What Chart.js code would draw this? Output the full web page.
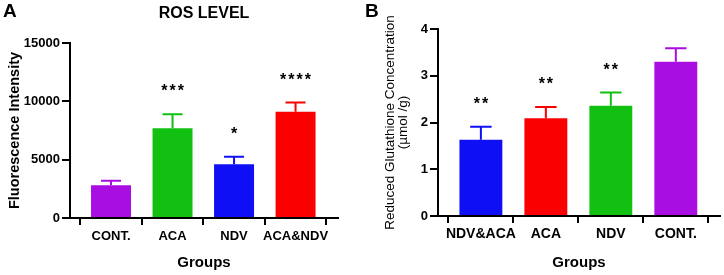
<!DOCTYPE html>
<html>
<head>
<meta charset="utf-8">
<script src="https://cdn.jsdelivr.net/npm/chart.js@4"></script>
<style>
  body { margin: 0; background: #fff; }
  #wrap { position: relative; width: 724px; height: 275px; }
  canvas { position: absolute; top: 0; }
  #chartA { left: 0; }
  #chartB { left: 362px; }
</style>
</head>
<body>
<div id="wrap">
  <canvas id="chartA" width="362" height="275"></canvas>
  <canvas id="chartB" width="362" height="275"></canvas>
</div>
<script>
// panel A - ROS level
var groupsA = ['CONT.', 'ACA', 'NDV', 'ACA&NDV'];
var rosMean = [2800, 7700, 4600, 9100];
var rosErr = [400, 1200, 650, 800];
var rosStars = ['', '***', '*', '****'];
var colorsA = ['rgb(168,14,226)', 'rgb(18,192,18)', 'rgb(15,15,245)', 'rgb(250,0,0)'];
var ticksA = [0, 5000, 10000, 15000];

// panel B - reduced glutathione
var groupsB = ['NDV&ACA', 'ACA', 'NDV', 'CONT.'];
var gshMean = [1.63, 2.09, 2.36, 3.30];
var gshErr = [0.28, 0.24, 0.28, 0.29];
var gshStars = ['**', '**', '**', ''];
var colorsB = ['rgb(15,15,245)', 'rgb(250,0,0)', 'rgb(18,192,18)', 'rgb(168,14,226)'];
var ticksB = [0, 1, 2, 3, 4];

var FONT = '"Liberation Sans", Arial, sans-serif';
Chart.defaults.font.family = FONT;
Chart.defaults.color = '#000';

// error bars (upper only) + significance stars
function errorPlugin(errs, stars, colors) {
  return {
    id: 'errBars',
    afterDatasetsDraw: function(chart) {
      var ctx = chart.ctx;
      var y = chart.scales.y;
      var ds = chart.data.datasets[0];
      var meta = chart.getDatasetMeta(0);
      ctx.save();
      meta.data.forEach(function(bar, i) {
        var top = y.getPixelForValue(ds.data[i].y + errs[i]);
        var half = bar.width / 4;
        ctx.strokeStyle = colors[i];
        ctx.lineWidth = 2;
        ctx.beginPath();
        ctx.moveTo(bar.x, bar.y);
        ctx.lineTo(bar.x, top);
        ctx.moveTo(bar.x - half, top);
        ctx.lineTo(bar.x + half, top);
        ctx.stroke();
        if (stars[i]) {
          ctx.fillStyle = '#000';
          ctx.font = 'bold 16px ' + FONT;
          ctx.letterSpacing = '2px';
          ctx.textAlign = 'center';
          ctx.textBaseline = 'alphabetic';
          ctx.fillText(stars[i], bar.x + 1, top - 18);
        }
      });
      ctx.restore();
    }
  };
}

function labelPlugin(letter, title) {
  return {
    id: 'panelText',
    afterDraw: function(chart) {
      var ctx = chart.ctx;
      var a = chart.chartArea;
      ctx.save();
      ctx.fillStyle = '#000';
      ctx.textBaseline = 'middle';
      ctx.textAlign = 'left';
      ctx.font = 'bold 19px ' + FONT;
      ctx.fillText(letter, 3, 12);
      if (title) {
        ctx.textAlign = 'center';
        ctx.font = 'bold 16px ' + FONT;
        ctx.fillText(title, (a.left + a.right) / 2, 14);
      }
      ctx.restore();
    }
  };
}

function makeChart(id, labels, values, errs, stars, colors, ticks, opt) {
  // groups sit at x = 0..n-1 on a linear axis so the outer gaps can be set
  var points = values.map(function(v, i) { return { x: i, y: v }; });
  return new Chart(document.getElementById(id), {
    type: 'bar',
    data: {
      datasets: [{
        data: points,
        backgroundColor: colors,
        borderWidth: 0,
        categoryPercentage: 1,
        barPercentage: opt.barPct
      }]
    },
    options: {
      responsive: false,
      animation: false,
      devicePixelRatio: 1,
      layout: { padding: opt.pad },
      plugins: { legend: { display: false }, tooltip: { enabled: false } },
      scales: {
        x: {
          type: 'linear',
          min: opt.xMin,
          max: opt.xMax,
          offset: false,
          afterBuildTicks: function(s) { s.ticks = labels.map(function(l, i) { return { value: i }; }); },
          grid: { drawOnChartArea: false, drawTicks: true, tickLength: 7, color: '#000', lineWidth: 2 },
          border: { display: true, color: '#000', width: 2 },
          ticks: { color: '#000', font: { size: opt.xFont, weight: 'bold' }, padding: opt.xPad, maxRotation: 0, autoSkip: false,
                   callback: function(v) { return labels[v]; } },
          title: { display: true, text: 'Groups', color: '#000', font: { size: 15, weight: 'bold' }, padding: { top: 0, bottom: 3 } },
          afterFit: function(s) { s.height = opt.xHeight; }
        },
        y: {
          min: ticks[0],
          max: ticks[ticks.length - 1],
          afterBuildTicks: function(s) { s.ticks = ticks.map(function(v) { return { value: v }; }); },
          grid: { drawOnChartArea: false, drawTicks: true, tickLength: 8, color: '#000', lineWidth: 2 },
          border: { display: true, color: '#000', width: 2 },
          ticks: { color: '#000', font: { size: 13, weight: 'bold' }, padding: 2, callback: function(v) { return String(v); } },
          title: opt.yTitle,
          afterFit: function(s) { s.width = opt.yWidth; }
        }
      }
    },
    plugins: [errorPlugin(errs, stars, colors), labelPlugin(opt.letter, opt.title)]
  });
}

makeChart('chartA', groupsA, rosMean, rosErr, rosStars, colorsA, ticksA, {
  barPct: 0.65, pad: { top: 43, right: 24, left: 0, bottom: 0 },
  xMin: -0.667, xMax: 3.69,
  xFont: 13, xPad: 4, xHeight: 57, yWidth: 70, letter: 'A', title: 'ROS LEVEL',
  yTitle: { display: true, text: 'Fluorescence Intensity', color: '#000', font: { size: 14.5, weight: 'bold' }, padding: { top: 6, bottom: 0 } }
});

makeChart('chartB', groupsB, gshMean, gshErr, gshStars, colorsB, ticksB, {
  barPct: 0.66, pad: { top: 29, right: 4, left: 0, bottom: 0 },
  xMin: -0.66, xMax: 3.68,
  xFont: 14, xPad: 3, xHeight: 59, yWidth: 76, letter: 'B', title: '',
  yTitle: { display: true, text: ['Reduced Glutathione Concentration', '(\u00b5mol /g)'], color: '#000', font: { size: 13.5, lineHeight: 0.97 }, padding: { top: 22, bottom: 0 } }
});
</script>
</body>
</html>
